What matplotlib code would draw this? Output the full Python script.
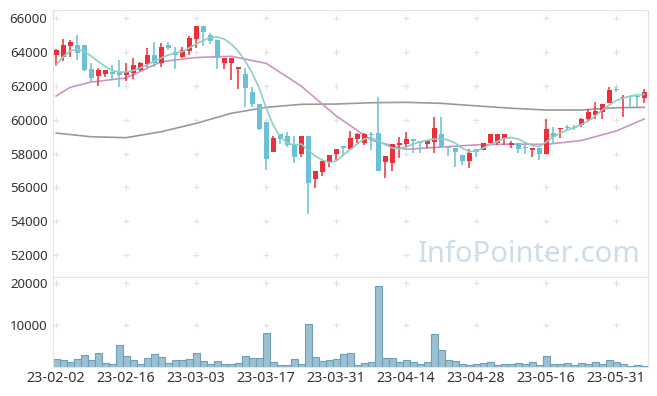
import matplotlib
matplotlib.use("Agg")
from matplotlib import pyplot as plt

plt.rcParams['font.family'] = ['Noto Sans', 'DejaVu Sans']

# daily candles, 2023-02-02 .. 2023-06-07 (85 trading days)
opens = [63800, 63700, 64380, 64420, 64420, 62980, 62590, 62690, 62840, 62840,
         62650, 62780, 62950, 63280, 63830, 63370, 64420, 64020, 63690, 64080,
         64775, 65545, 65010, 64715, 63340, 63340, 62980, 62700, 61620, 60910,
         59860, 58100, 59150, 59030, 58560, 57970, 59030, 56490, 56900, 57510,
         57970, 58460, 58250, 58840, 58600, 59150, 59190, 57500, 57420, 58500,
         58560, 58870, 58740, 58560, 58700, 59150, 58340, 58300, 57910, 57570,
         58260, 58200, 58600, 58600, 58840, 58500, 58600, 58380, 58200, 58340,
         57970, 59190, 59430, 59520, 59520, 59690, 60040, 60280, 60470, 60970,
         61800, 61300, 61400, 61380, 61300]
highs = [64200, 64750, 64700, 65000, 64420, 63340, 63040, 62940, 63240, 63530,
         63370, 63630, 63440, 64220, 64580, 64520, 64615, 64320, 64320, 64950,
         65545, 65545, 65150, 64715, 63630, 63630, 63100, 63040, 61915, 60910,
         59860, 59040, 59150, 59300, 59030, 59030, 59030, 56965, 57560, 57900,
         58270, 58460, 59350, 59200, 59200, 59250, 61360, 57870, 58560, 58990,
         59290, 58870, 58740, 58800, 60180, 60140, 58450, 58300, 57910, 58260,
         58260, 58600, 59130, 59130, 59130, 58760, 58600, 58600, 58340, 58340,
         60040, 59590, 59500, 59700, 59700, 60100, 60650, 61030, 60930, 61910,
         61910, 61460, 61400, 61420, 61800]
lows = [63150, 63500, 63700, 63530, 62900, 62250, 62010, 62510, 62350, 61920,
        62290, 62390, 62900, 63140, 63140, 63140, 64130, 62980, 63640, 63800,
        64220, 64360, 64500, 62980, 62980, 62350, 61800, 60730, 60770, 59390,
        57020, 58100, 58560, 58390, 57420, 57800, 54400, 55940, 56690, 57220,
        57610, 57850, 58250, 58640, 58500, 58200, 56980, 56550, 56980, 57710,
        58300, 58010, 58010, 58300, 58010, 58300, 57860, 57220, 57320, 57120,
        57770, 58200, 58600, 58500, 58500, 58300, 58040, 57980, 57810, 57610,
        57970, 58600, 58930, 59380, 59420, 59600, 59840, 60020, 60020, 60970,
        61650, 60180, 60710, 60770, 61000]
closes = [64100, 64420, 64620, 63930, 62940, 62490, 62940, 62940, 62700, 62650,
          62840, 63240, 63370, 63830, 63340, 64280, 64260, 63830, 64120, 64820,
          65545, 65210, 64675, 63630, 63630, 63630, 63100, 61890, 60910, 59470,
          57690, 58900, 58840, 58500, 57810, 59030, 56270, 56960, 57560, 57900,
          58270, 58300, 58930, 59150, 59150, 59120, 56980, 57870, 58540, 58640,
          58870, 58740, 58600, 58740, 59490, 58370, 58300, 58100, 57570, 58050,
          58070, 58600, 59130, 59130, 59130, 58600, 58260, 58340, 58300, 57970,
          59450, 58990, 59500, 59490, 59490, 60040, 60440, 60520, 60930, 61760,
          61760, 61360, 61320, 61360, 61620]
volumes = [1900, 1570, 1100, 1900, 2860, 1600, 3300, 950, 700, 5200,
           2600, 1700, 700, 2100, 3100, 2400, 950, 1600, 1600, 1900,
           3300, 1400, 700, 1400, 700, 700, 950, 2600, 2100, 2100,
           8100, 1200, 500, 500, 1900, 700, 10200, 2400, 1500, 1700,
           1900, 3100, 3300, 500, 950, 1200, 19400, 2100, 2100, 1200,
           1600, 1200, 700, 1200, 7900, 4000, 1600, 1400, 700, 400,
           700, 950, 1200, 500, 700, 700, 950, 700, 1200, 500,
           2600, 700, 700, 950, 500, 950, 700, 1200, 700, 1600,
           1200, 700, 200, 500, 200]

# moving averages
ma5 = [63237, 63728, 64065, 64166, 64036, 63769, 63444, 63148, 62911, 62822,
       62822, 62911, 63059, 63237, 63473, 63651, 63828, 63947, 64024, 64243,
       64479, 64686, 64864, 64894, 64775, 64479, 64065, 63473, 62763, 61876,
       60692, 59687, 58995, 58621, 58503, 58562, 58207, 57852, 57616, 57468,
       57557, 57912, 58237, 58562, 58858, 58947, 58740, 58533, 58326, 58267,
       58385, 58562, 58698, 58781, 58858, 58888, 58799, 58621, 58326, 58119,
       58148, 58326, 58533, 58710, 58888, 58947, 58858, 58651, 58474, 58415,
       58680, 58976, 59196, 59391, 59539, 59716, 59923, 60219, 60574, 60870,
       61136, 61284, 61402, 61462, 61503]
ma20_idx = [0, 2, 5, 10, 15, 20, 25, 30, 35, 40, 45, 50, 55, 60, 65, 70, 75, 80, 84]
ma20 = [61403, 61917, 62231, 62468, 63432, 63680, 63751, 63337, 61994, 60230,
        58799, 58249, 58385, 58515, 58562, 58544, 58770, 59332, 60042]
ma60_idx = [0, 5, 10, 15, 20, 25, 30, 35, 40, 45, 50, 55, 60, 65, 70, 75, 80, 84]
ma60 = [59213, 58994, 58940, 59290, 59787, 60380, 60734, 60911, 60929, 61006,
        61030, 60970, 60820, 60680, 60574, 60574, 60710, 60734]

tick_pos = [0, 10, 20, 30, 40, 50, 60, 70, 80]
tick_labels = ["23-02-02", "23-02-16", "23-03-03", "23-03-17", "23-03-31",
               "23-04-14", "23-04-28", "23-05-16", "23-05-31"]
price_ticks = [52000, 54000, 56000, 58000, 60000, 62000, 64000, 66000]
vol_ticks = [10000, 20000]

UP = "#ec2f3b"
DOWN = "#69c0d8"
BORDER = "#e4e4e4"
TEXT = "#333333"

fig = plt.figure(figsize=(6.57, 3.96), dpi=100)
ax = fig.add_axes([53 / 657, 119 / 396, 595 / 657, 267 / 396])
axv = fig.add_axes([53 / 657, 29 / 396, 595 / 657, 90 / 396])

n = len(closes)
x = list(range(n))

# grid "+" marks at tick crossings
for t in tick_pos:
    ax.plot([t] * len(price_ticks), price_ticks, "+", color="#e2e2e2", ms=4, mew=0.8, zorder=0)
    axv.plot([t] * len(vol_ticks), vol_ticks, "+", color="#e2e2e2", ms=4, mew=0.8, zorder=0)

ax.plot(ma60_idx, ma60, color="#999999", lw=1.2, zorder=1)
ax.plot(ma20_idx, ma20, color="#c995c6", lw=1.2, zorder=1)

colors = [UP if c >= o else DOWN for o, c in zip(opens, closes)]
ax.vlines(x, lows, highs, colors=colors, lw=1.1, zorder=2)
bottoms = [min(o, c) for o, c in zip(opens, closes)]
heights = [max(abs(c - o), 60) for o, c in zip(opens, closes)]
ax.bar(x, heights, bottom=bottoms, width=0.72, color=colors, zorder=3)

ax.plot(x, ma5, color="#8ccfc3", lw=1.2, zorder=4)

ax.text(0.80, 0.085, "InfoPointer.com", transform=ax.transAxes, ha="center", va="center",
        fontsize=21, color="#cddde7", zorder=0)

ax.set_xlim(-0.45, n - 0.45)
ax.set_ylim(50700, 66490)
ax.set_yticks(price_ticks)
ax.set_yticklabels([str(v) for v in price_ticks])
ax.set_xticks([])

axv.bar(x, volumes, width=1.0, color="#9bc0d1", edgecolor="#6f9fb8", linewidth=0.8)
axv.set_xlim(-0.45, n - 0.45)
axv.set_ylim(0, 21500)
axv.set_yticks(vol_ticks)
axv.set_yticklabels([str(v) for v in vol_ticks])
axv.set_xticks(tick_pos)
axv.set_xticklabels(tick_labels)

for a in (ax, axv):
    for s in a.spines.values():
        s.set_color(BORDER)
    a.tick_params(length=0, labelsize=9.5, colors=TEXT, pad=4)
axv.tick_params(axis="x", labelsize=10.3, pad=3)

plt.savefig("out.png", dpi=100)
